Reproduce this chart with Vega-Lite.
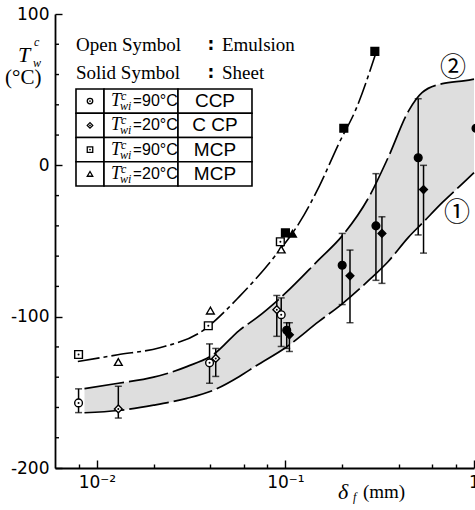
{
  "$schema": "https://vega.github.io/schema/vega-lite/v6.json",
  "width": 419,
  "height": 454,
  "autosize": {"type": "none"},
  "padding": {"left": 55, "top": 14, "right": 1, "bottom": 42},
  "background": "white",
  "view": {"stroke": null},
  "config": {
    "axis": {"grid": false, "domainColor": "black", "domainWidth": 1.8, "tickColor": "black", "tickWidth": 1.4, "labelColor": "black", "title": null, "labelOverlap": false}
  },
  "datasets": {
    "band": [
      {"x": 0.0086, "hi": -147.5, "lo": -163.5},
      {"x": 0.013, "hi": -144, "lo": -162},
      {"x": 0.02, "hi": -140, "lo": -158.5},
      {"x": 0.03, "hi": -133, "lo": -154},
      {"x": 0.042, "hi": -124.5, "lo": -148.3},
      {"x": 0.057, "hi": -109, "lo": -139.5},
      {"x": 0.07, "hi": -101, "lo": -132.4},
      {"x": 0.1, "hi": -84.5, "lo": -120.5},
      {"x": 0.15, "hi": -62.5, "lo": -103.3},
      {"x": 0.2, "hi": -46.6, "lo": -91.5},
      {"x": 0.28, "hi": -20, "lo": -75.4},
      {"x": 0.35, "hi": 5, "lo": -63.7},
      {"x": 0.45, "hi": 36, "lo": -47.4},
      {"x": 0.53, "hi": 48, "lo": -38.4},
      {"x": 0.68, "hi": 54, "lo": -24.5},
      {"x": 0.9, "hi": 56, "lo": -10.3},
      {"x": 1.0, "hi": 57, "lo": -4.8}
    ],
    "mcp": [
      {"x": 0.00793, "y": -129.6},
      {"x": 0.01292, "y": -125.2},
      {"x": 0.02155, "y": -120.5},
      {"x": 0.0351, "y": -110.6},
      {"x": 0.0571, "y": -86.6},
      {"x": 0.0894, "y": -58.9},
      {"x": 0.1186, "y": -37.9},
      {"x": 0.1513, "y": -13.7},
      {"x": 0.193, "y": 15.0},
      {"x": 0.2366, "y": 37.1},
      {"x": 0.2985, "y": 72.4}
    ],
    "minorY": [
      {"y": -180}, {"y": -160}, {"y": -140}, {"y": -120},
      {"y": -80}, {"y": -60}, {"y": -40}, {"y": -20},
      {"y": 20}, {"y": 40}, {"y": 60}, {"y": 80}
    ],
    "pts": [
      {"x": 0.008, "y": -157, "cond": "CCP 90", "sample": "Emulsion"},
      {"x": 0.0396, "y": -130.5, "cond": "CCP 90", "sample": "Emulsion"},
      {"x": 0.095, "y": -98.7, "cond": "CCP 90", "sample": "Emulsion"},
      {"x": 0.013, "y": -161, "cond": "CCP 20", "sample": "Emulsion"},
      {"x": 0.0427, "y": -127.6, "cond": "CCP 20", "sample": "Emulsion"},
      {"x": 0.09, "y": -95.4, "cond": "CCP 20", "sample": "Emulsion"},
      {"x": 0.008, "y": -125, "cond": "MCP 90", "sample": "Emulsion"},
      {"x": 0.039, "y": -106, "cond": "MCP 90", "sample": "Emulsion"},
      {"x": 0.094, "y": -50.5, "cond": "MCP 90", "sample": "Emulsion"},
      {"x": 0.013, "y": -130, "cond": "MCP 20", "sample": "Emulsion"},
      {"x": 0.04, "y": -96, "cond": "MCP 20", "sample": "Emulsion"},
      {"x": 0.095, "y": -55.6, "cond": "MCP 20", "sample": "Emulsion"},
      {"x": 0.1016, "y": -109, "cond": "CCP 90", "sample": "Sheet"},
      {"x": 0.2, "y": -66, "cond": "CCP 90", "sample": "Sheet"},
      {"x": 0.302, "y": -40, "cond": "CCP 90", "sample": "Sheet"},
      {"x": 0.506, "y": 5, "cond": "CCP 90", "sample": "Sheet"},
      {"x": 1.025, "y": 24.5, "cond": "CCP 90", "sample": "Sheet"},
      {"x": 0.105, "y": -112, "cond": "CCP 20", "sample": "Sheet"},
      {"x": 0.22, "y": -73, "cond": "CCP 20", "sample": "Sheet"},
      {"x": 0.325, "y": -45, "cond": "CCP 20", "sample": "Sheet"},
      {"x": 0.54, "y": -16, "cond": "CCP 20", "sample": "Sheet"},
      {"x": 0.1, "y": -44.6, "cond": "MCP 90", "sample": "Sheet"},
      {"x": 0.204, "y": 24.5, "cond": "MCP 90", "sample": "Sheet"},
      {"x": 0.298, "y": 75.3, "cond": "MCP 90", "sample": "Sheet"},
      {"x": 0.109, "y": -45.2, "cond": "MCP 20", "sample": "Sheet"}
    ],
    "err": [
      {"x": 0.008, "lo": -163.4, "hi": -147.7},
      {"x": 0.0396, "lo": -144, "hi": -118},
      {"x": 0.095, "lo": -119.7, "hi": -87.6},
      {"x": 0.013, "lo": -167, "hi": -146},
      {"x": 0.0427, "lo": -139.5, "hi": -121},
      {"x": 0.09, "lo": -113, "hi": -86},
      {"x": 0.1016, "lo": -121, "hi": -104},
      {"x": 0.105, "lo": -123, "hi": -104},
      {"x": 0.2, "lo": -92, "hi": -45},
      {"x": 0.22, "lo": -104, "hi": -56},
      {"x": 0.302, "lo": -76, "hi": -5.5},
      {"x": 0.325, "lo": -78, "hi": -34},
      {"x": 0.506, "lo": -46, "hi": 44},
      {"x": 0.54, "lo": -58, "hi": 0}
    ],
    "cells": [
      {"x0": 0.007753, "x1": 0.010914, "y0": 50.44, "y1": 34.41},
      {"x0": 0.010914, "x1": 0.026935, "y0": 50.44, "y1": 34.41},
      {"x0": 0.026935, "x1": 0.066484, "y0": 50.44, "y1": 34.41},
      {"x0": 0.007753, "x1": 0.010914, "y0": 34.41, "y1": 18.39},
      {"x0": 0.010914, "x1": 0.026935, "y0": 34.41, "y1": 18.39},
      {"x0": 0.026935, "x1": 0.066484, "y0": 34.41, "y1": 18.39},
      {"x0": 0.007753, "x1": 0.010914, "y0": 18.39, "y1": 2.37},
      {"x0": 0.010914, "x1": 0.026935, "y0": 18.39, "y1": 2.37},
      {"x0": 0.026935, "x1": 0.066484, "y0": 18.39, "y1": 2.37},
      {"x0": 0.007753, "x1": 0.010914, "y0": 2.37, "y1": -13.66},
      {"x0": 0.010914, "x1": 0.026935, "y0": 2.37, "y1": -13.66},
      {"x0": 0.026935, "x1": 0.066484, "y0": 2.37, "y1": -13.66}
    ],
    "legsym": [
      {"x": 0.009199, "y": 42.44, "cond": "CCP 90"},
      {"x": 0.009199, "y": 26.39, "cond": "CCP 20"},
      {"x": 0.009199, "y": 10.39, "cond": "MCP 90"},
      {"x": 0.009199, "y": -5.66, "cond": "MCP 20"}
    ],
    "serif": [
      {"x": 0.007753, "y": 79.5, "t": "Open Symbol"},
      {"x": 0.007753, "y": 61.2, "t": "Solid Symbol"},
      {"x": 0.04608, "y": 79.5, "t": "Emulsion"},
      {"x": 0.04608, "y": 61.2, "t": "Sheet"},
      {"x": 0.25774, "y": -215.86, "t": "(mm)"}
    ],
    "serifBig": [
      {"x": 0.0032583, "y": 57.7, "t": "(°C)"}
    ],
    "colons": [
      {"x": 0.04028, "y": 79.5, "t": ":"},
      {"x": 0.04028, "y": 61.2, "t": ":"}
    ],
    "italicBig": [
      {"x": 0.00382, "y": 72.9, "t": "T"},
      {"x": 0.19003, "y": -215.86, "t": "δ"}
    ],
    "italicSmall": [
      {"x": 0.004642, "y": 81.5, "t": "c"},
      {"x": 0.004586, "y": 67.3, "t": "w"},
      {"x": 0.22818, "y": -219.16, "t": "f"},
      {"x": 0.013428, "y": 45.74, "t": "c"},
      {"x": 0.013264, "y": 39.14, "t": "wi"},
      {"x": 0.013428, "y": 29.69, "t": "c"},
      {"x": 0.013264, "y": 23.09, "t": "wi"},
      {"x": 0.013428, "y": 13.69, "t": "c"},
      {"x": 0.013264, "y": 7.09, "t": "wi"},
      {"x": 0.013428, "y": -2.36, "t": "c"},
      {"x": 0.013264, "y": -8.96, "t": "wi"}
    ],
    "legT": [
      {"x": 0.011888, "y": 42.44, "t": "T"},
      {"x": 0.011888, "y": 26.39, "t": "T"},
      {"x": 0.011888, "y": 10.39, "t": "T"},
      {"x": 0.011888, "y": -5.66, "t": "T"}
    ],
    "legEq": [
      {"x": 0.015553, "y": 42.44, "t": "="},
      {"x": 0.015553, "y": 26.39, "t": "="},
      {"x": 0.015553, "y": 10.39, "t": "="},
      {"x": 0.015553, "y": -5.66, "t": "="}
    ],
    "legTemp": [
      {"x": 0.017356, "y": 42.44, "t": "90°C"},
      {"x": 0.017356, "y": 26.39, "t": "20°C"},
      {"x": 0.017356, "y": 10.39, "t": "90°C"},
      {"x": 0.017356, "y": -5.66, "t": "20°C"}
    ],
    "legCP": [
      {"x": 0.042316, "y": 42.44, "t": "CCP"},
      {"x": 0.042316, "y": 26.39, "t": "C CP"},
      {"x": 0.042316, "y": 10.39, "t": "MCP"},
      {"x": 0.042316, "y": -5.66, "t": "MCP"}
    ],
    "circled": [
      {"x": 0.7735, "y": 64.3, "t": "②"},
      {"x": 0.81203, "y": -31.5, "t": "①"}
    ]
  },
  "layer": [
    {
      "data": {"name": "band"},
      "mark": {"type": "area", "interpolate": "monotone", "fill": "#dedede", "opacity": 1},
      "encoding": {
        "x": {"field": "x", "type": "quantitative", "scale": {"type": "log", "domain": [0.006, 1], "nice": false},
          "axis": {
            "title": null,
            "values": [0.008, 0.01, 0.02, 0.04, 0.06, 0.08, 0.1, 0.2, 0.4, 0.6, 0.8, 1],
            "labelExpr": "datum.value == 0.01 ? '10⁻²' : datum.value == 0.1 ? '10⁻¹' : datum.value == 1 ? '1' : ''",
            "tickSize": {"condition": {"test": "datum.value == 0.01 || datum.value == 0.1 || datum.value == 1", "value": -8}, "value": -4},
            "labelPadding": 14,
            "labelFont": "DejaVu Sans",
            "labelFontSize": 17,
            "labelOverlap": false,
            "labelFlush": false
          }
        },
        "y": {"field": "hi", "type": "quantitative", "scale": {"domain": [-200, 100], "nice": false, "zero": false},
          "axis": {
            "title": null,
            "values": [-200, -100, 0, 100],
            "labelExpr": "datum.value < 0 ? '-' + abs(datum.value) : '' + datum.value",
            "tickSize": -7,
            "labelPadding": 13,
            "labelFont": "DejaVu Sans",
            "labelFontSize": 17,
            "labelOverlap": false,
            "labelFlush": false
          }
        },
        "y2": {"field": "lo"}
      }
    },
    {
      "data": {"name": "minorY"},
      "mark": {"type": "rule", "color": "black", "strokeWidth": 1.4},
      "encoding": {
        "x": {"datum": 0.006, "type": "quantitative", "scale": {"type": "log", "domain": [0.006, 1], "nice": false}},
        "x2": {"datum": 0.0063},
        "y": {"field": "y", "type": "quantitative", "scale": {"domain": [-200, 100], "nice": false, "zero": false}}
      }
    },
    {
      "data": {"name": "band"},
      "mark": {"type": "line", "interpolate": "monotone", "color": "black", "strokeWidth": 1.7, "strokeDash": [40, 5]},
      "encoding": {
        "x": {"field": "x", "type": "quantitative", "scale": {"type": "log", "domain": [0.006, 1], "nice": false}},
        "y": {"field": "hi", "type": "quantitative", "scale": {"domain": [-200, 100], "nice": false, "zero": false}}
      }
    },
    {
      "data": {"name": "band"},
      "mark": {"type": "line", "interpolate": "monotone", "color": "black", "strokeWidth": 1.7, "strokeDash": [40, 5]},
      "encoding": {
        "x": {"field": "x", "type": "quantitative", "scale": {"type": "log", "domain": [0.006, 1], "nice": false}},
        "y": {"field": "lo", "type": "quantitative", "scale": {"domain": [-200, 100], "nice": false, "zero": false}}
      }
    },
    {
      "data": {"name": "mcp"},
      "mark": {"type": "line", "interpolate": "monotone", "color": "black", "strokeWidth": 1.6, "strokeDash": [22, 4, 4, 4]},
      "encoding": {
        "x": {"field": "x", "type": "quantitative", "scale": {"type": "log", "domain": [0.006, 1], "nice": false}},
        "y": {"field": "y", "type": "quantitative", "scale": {"domain": [-200, 100], "nice": false, "zero": false}}
      }
    },
    {
      "data": {"name": "err"},
      "mark": {"type": "errorbar", "color": "black", "ticks": {"size": 7, "thickness": 1.5, "color": "black"}, "rule": {"strokeWidth": 1.5, "color": "black"}},
      "encoding": {
        "x": {"field": "x", "type": "quantitative", "scale": {"type": "log", "domain": [0.006, 1], "nice": false}},
        "y": {"field": "lo", "type": "quantitative", "scale": {"domain": [-200, 100], "nice": false, "zero": false}},
        "y2": {"field": "hi"}
      }
    },
    {
      "data": {"name": "pts"},
      "mark": {"type": "point", "filled": true, "stroke": "black", "strokeWidth": 1.4, "size": 60, "opacity": 1},
      "encoding": {
        "x": {"field": "x", "type": "quantitative", "scale": {"type": "log", "domain": [0.006, 1], "nice": false}},
        "y": {"field": "y", "type": "quantitative", "scale": {"domain": [-200, 100], "nice": false, "zero": false}},
        "shape": {"field": "cond", "type": "nominal", "scale": {"domain": ["CCP 90", "CCP 20", "MCP 90", "MCP 20"], "range": ["circle", "diamond", "square", "triangle-up"]}, "legend": null},
        "fill": {"field": "sample", "type": "nominal", "scale": {"domain": ["Emulsion", "Sheet"], "range": ["white", "black"]}, "legend": null}
      }
    },
    {
      "data": {"name": "pts"},
      "transform": [{"filter": "datum.sample == 'Emulsion' && datum.cond != 'MCP 20'"}],
      "mark": {"type": "point", "filled": true, "color": "black", "size": 4, "shape": "circle", "opacity": 1},
      "encoding": {
        "x": {"field": "x", "type": "quantitative", "scale": {"type": "log", "domain": [0.006, 1], "nice": false}},
        "y": {"field": "y", "type": "quantitative", "scale": {"domain": [-200, 100], "nice": false, "zero": false}}
      }
    },
    {
      "data": {"name": "cells"},
      "mark": {"type": "rect", "fill": "white", "stroke": "black", "strokeWidth": 1.6},
      "encoding": {
        "x": {"field": "x0", "type": "quantitative", "scale": {"type": "log", "domain": [0.006, 1], "nice": false}},
        "x2": {"field": "x1"},
        "y": {"field": "y0", "type": "quantitative", "scale": {"domain": [-200, 100], "nice": false, "zero": false}},
        "y2": {"field": "y1"}
      }
    },
    {
      "data": {"name": "legsym"},
      "mark": {"type": "point", "filled": true, "fill": "white", "stroke": "black", "strokeWidth": 1.3, "size": 30, "opacity": 1},
      "encoding": {
        "x": {"field": "x", "type": "quantitative", "scale": {"type": "log", "domain": [0.006, 1], "nice": false}},
        "y": {"field": "y", "type": "quantitative", "scale": {"domain": [-200, 100], "nice": false, "zero": false}},
        "shape": {"field": "cond", "type": "nominal", "scale": {"domain": ["CCP 90", "CCP 20", "MCP 90", "MCP 20"], "range": ["circle", "diamond", "square", "triangle-up"]}, "legend": null}
      }
    },
    {
      "data": {"name": "legsym"},
      "transform": [{"filter": "datum.cond != 'MCP 20'"}],
      "mark": {"type": "point", "filled": true, "color": "black", "size": 3, "shape": "circle", "opacity": 1},
      "encoding": {
        "x": {"field": "x", "type": "quantitative", "scale": {"type": "log", "domain": [0.006, 1], "nice": false}},
        "y": {"field": "y", "type": "quantitative", "scale": {"domain": [-200, 100], "nice": false, "zero": false}}
      }
    },
    {
      "data": {"name": "serif"},
      "mark": {"type": "text", "font": "Liberation Serif", "fontSize": 19, "align": "left", "baseline": "middle", "color": "black"},
      "encoding": {
        "x": {"field": "x", "type": "quantitative", "scale": {"type": "log", "domain": [0.006, 1], "nice": false}},
        "y": {"field": "y", "type": "quantitative", "scale": {"domain": [-200, 100], "nice": false, "zero": false}},
        "text": {"field": "t"}
      }
    },
    {
      "data": {"name": "serifBig"},
      "mark": {"type": "text", "font": "Liberation Serif", "fontSize": 21, "align": "left", "baseline": "middle", "color": "black"},
      "encoding": {
        "x": {"field": "x", "type": "quantitative", "scale": {"type": "log", "domain": [0.006, 1], "nice": false}},
        "y": {"field": "y", "type": "quantitative", "scale": {"domain": [-200, 100], "nice": false, "zero": false}},
        "text": {"field": "t"}
      }
    },
    {
      "data": {"name": "colons"},
      "mark": {"type": "text", "font": "DejaVu Sans", "fontWeight": "bold", "fontSize": 17, "align": "center", "baseline": "middle", "color": "black"},
      "encoding": {
        "x": {"field": "x", "type": "quantitative", "scale": {"type": "log", "domain": [0.006, 1], "nice": false}},
        "y": {"field": "y", "type": "quantitative", "scale": {"domain": [-200, 100], "nice": false, "zero": false}},
        "text": {"field": "t"}
      }
    },
    {
      "data": {"name": "italicBig"},
      "mark": {"type": "text", "font": "Liberation Serif", "fontStyle": "italic", "fontSize": 22, "align": "left", "baseline": "middle", "color": "black"},
      "encoding": {
        "x": {"field": "x", "type": "quantitative", "scale": {"type": "log", "domain": [0.006, 1], "nice": false}},
        "y": {"field": "y", "type": "quantitative", "scale": {"domain": [-200, 100], "nice": false, "zero": false}},
        "text": {"field": "t"}
      }
    },
    {
      "data": {"name": "italicSmall"},
      "mark": {"type": "text", "font": "Liberation Serif", "fontStyle": "italic", "fontSize": 12, "align": "left", "baseline": "middle", "color": "black"},
      "encoding": {
        "x": {"field": "x", "type": "quantitative", "scale": {"type": "log", "domain": [0.006, 1], "nice": false}},
        "y": {"field": "y", "type": "quantitative", "scale": {"domain": [-200, 100], "nice": false, "zero": false}},
        "text": {"field": "t"}
      }
    },
    {
      "data": {"name": "legT"},
      "mark": {"type": "text", "font": "Liberation Serif", "fontStyle": "italic", "fontSize": 18, "align": "left", "baseline": "middle", "color": "black"},
      "encoding": {
        "x": {"field": "x", "type": "quantitative", "scale": {"type": "log", "domain": [0.006, 1], "nice": false}},
        "y": {"field": "y", "type": "quantitative", "scale": {"domain": [-200, 100], "nice": false, "zero": false}},
        "text": {"field": "t"}
      }
    },
    {
      "data": {"name": "legEq"},
      "mark": {"type": "text", "font": "Liberation Sans", "fontSize": 15, "align": "left", "baseline": "middle", "color": "black"},
      "encoding": {
        "x": {"field": "x", "type": "quantitative", "scale": {"type": "log", "domain": [0.006, 1], "nice": false}},
        "y": {"field": "y", "type": "quantitative", "scale": {"domain": [-200, 100], "nice": false, "zero": false}},
        "text": {"field": "t"}
      }
    },
    {
      "data": {"name": "legTemp"},
      "mark": {"type": "text", "font": "Liberation Sans", "fontSize": 16, "align": "left", "baseline": "middle", "color": "black"},
      "encoding": {
        "x": {"field": "x", "type": "quantitative", "scale": {"type": "log", "domain": [0.006, 1], "nice": false}},
        "y": {"field": "y", "type": "quantitative", "scale": {"domain": [-200, 100], "nice": false, "zero": false}},
        "text": {"field": "t"}
      }
    },
    {
      "data": {"name": "legCP"},
      "mark": {"type": "text", "font": "Liberation Sans", "fontSize": 19, "align": "center", "baseline": "middle", "color": "black"},
      "encoding": {
        "x": {"field": "x", "type": "quantitative", "scale": {"type": "log", "domain": [0.006, 1], "nice": false}},
        "y": {"field": "y", "type": "quantitative", "scale": {"domain": [-200, 100], "nice": false, "zero": false}},
        "text": {"field": "t"}
      }
    },
    {
      "data": {"name": "circled"},
      "mark": {"type": "text", "font": "Noto Sans CJK JP", "fontSize": 26, "align": "center", "baseline": "middle", "color": "black"},
      "encoding": {
        "x": {"field": "x", "type": "quantitative", "scale": {"type": "log", "domain": [0.006, 1], "nice": false}},
        "y": {"field": "y", "type": "quantitative", "scale": {"domain": [-200, 100], "nice": false, "zero": false}},
        "text": {"field": "t"}
      }
    }
  ]
}
